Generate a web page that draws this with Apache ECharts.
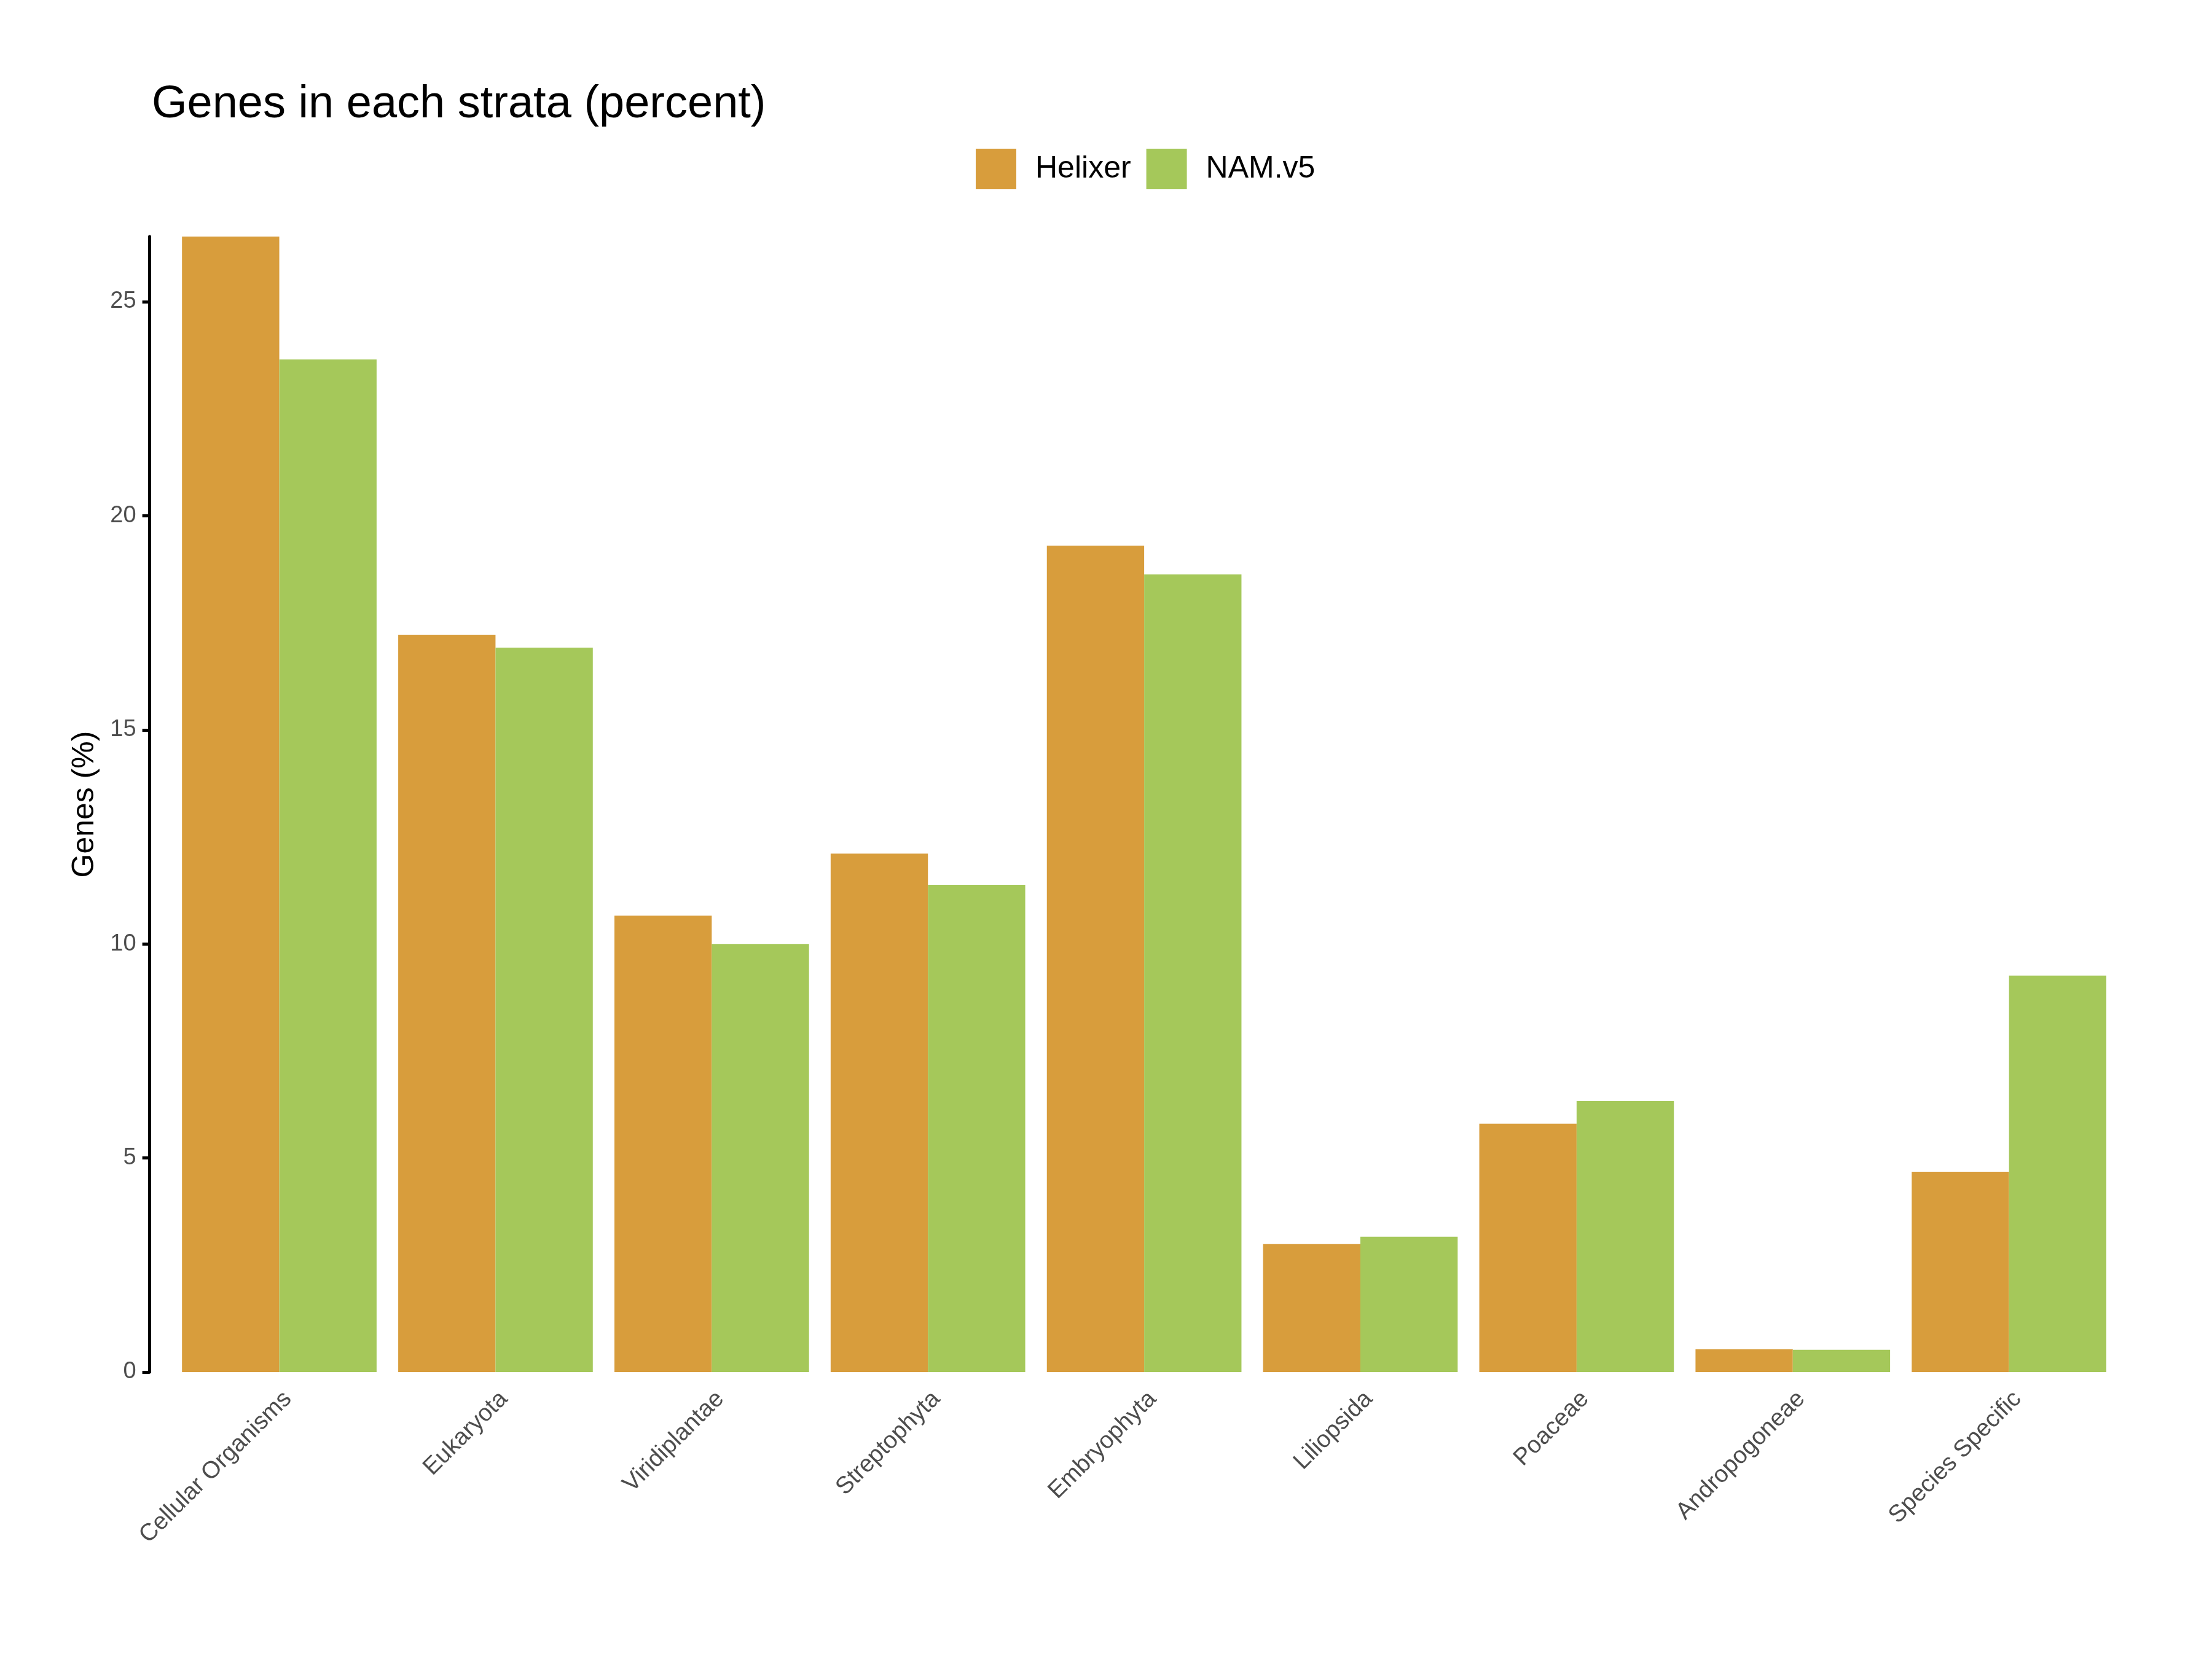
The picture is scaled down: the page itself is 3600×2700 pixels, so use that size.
<!DOCTYPE html>
<html>
<head>
<meta charset="utf-8">
<script src="https://cdn.jsdelivr.net/npm/echarts@6/dist/echarts.min.js"></script>
<style>
html,body{margin:0;padding:0;background:#fff;}
#chart{width:3600px;height:2700px;}
</style>
</head>
<body>
<div id="chart"></div>
<script>
const categories = ["Cellular Organisms","Eukaryota","Viridiplantae","Streptophyta","Embryophyta","Liliopsida","Poaceae","Andropogoneae","Species Specific"];
const helixer = [26.52, 17.22, 10.66, 12.11, 19.30, 2.99, 5.80, 0.53, 4.68];
const namv5 = [23.65, 16.92, 10.00, 11.38, 18.63, 3.16, 6.33, 0.52, 9.26];
const yTicks = [0, 5, 10, 15, 20, 25];
const seriesNames = ["Helixer", "NAM.v5"];
const colors = ["#D89D3C", "#A5C85A"];

const font = "Liberation Sans, Arial, Helvetica, sans-serif";
const chart = echarts.init(document.getElementById('chart'), null, {renderer: 'canvas'});
chart.setOption({
  backgroundColor: '#ffffff',
  animation: false,
  title: {
    text: 'Genes in each strata (percent)',
    left: 242,
    top: 129,
    textStyle: {fontFamily: font, fontSize: 74, fontWeight: 'normal', color: '#000000'}
  },
  legend: {
    data: seriesNames,
    left: 1583,
    top: 237,
    itemWidth: 66,
    itemHeight: 66,
    itemGap: 25,
    icon: 'rect',
    textStyle: {fontFamily: font, fontSize: 50, color: '#000000', padding: [0, 0, 0, 26]}
  },
  grid: {left: 278.6, right: 154.4, top: 385, bottom: 467, containLabel: false},
  xAxis: {
    type: 'category',
    data: categories,
    axisLine: {show: false},
    axisTick: {show: false},
    splitLine: {show: false},
    axisLabel: {
      rotate: 45,
      align: 'right',
      verticalAlign: 'top',
      margin: 24,
      interval: 0,
      fontFamily: font,
      fontSize: 39,
      color: '#4D4D4D'
    }
  },
  yAxis: {
    type: 'value',
    min: 0,
    max: Math.max(...helixer, ...namv5),
    interval: 5,
    offset: 35,
    name: 'Genes (%)',
    nameLocation: 'middle',
    nameGap: 80,
    nameTextStyle: {fontFamily: font, fontSize: 50, color: '#000000'},
    axisLine: {show: true, lineStyle: {color: '#000000', width: 5}},
    axisTick: {show: true, length: 12, lineStyle: {color: '#000000', width: 5}, customValues: yTicks},
    axisLabel: {fontFamily: font, fontSize: 38, color: '#4D4D4D', margin: 22, customValues: yTicks},
    splitLine: {show: false}
  },
  series: [
    {name: seriesNames[0], type: 'bar', data: helixer, itemStyle: {color: colors[0]}, barGap: '0%', barCategoryGap: '10%'},
    {name: seriesNames[1], type: 'bar', data: namv5, itemStyle: {color: colors[1]}, barGap: '0%', barCategoryGap: '10%'}
  ]
});
</script>
</body>
</html>
